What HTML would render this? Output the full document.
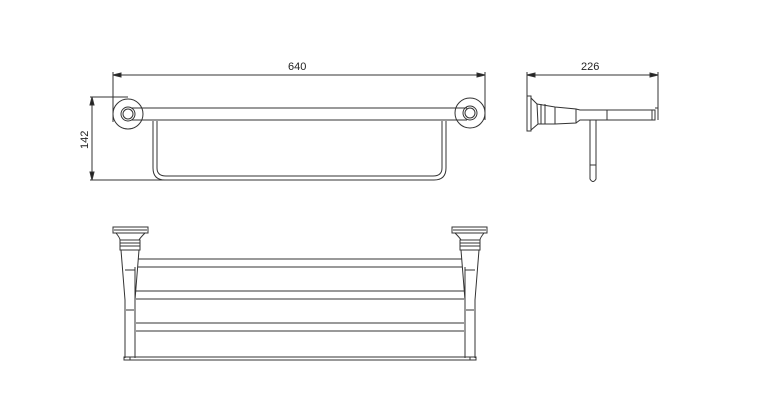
<!DOCTYPE html>
<html><head><meta charset="utf-8"><style>
html,body{margin:0;padding:0;background:#fff;width:762px;height:420px;overflow:hidden}
svg{display:block}
text{font-family:"Liberation Sans",sans-serif;font-size:11px;fill:#222}
</style></head><body>
<svg width="762" height="420" viewBox="0 0 762 420" xmlns="http://www.w3.org/2000/svg">
<g fill="none" stroke="#333" stroke-width="1">
<!-- top view dims -->
<line x1="113" y1="75" x2="485" y2="75"/>
<line x1="113" y1="72" x2="113" y2="122"/>
<line x1="485" y1="72" x2="485" y2="120"/>
<polygon points="113,75 121,73 121,77" fill="#222"/>
<polygon points="485,75 477,73 477,77" fill="#222"/>
<line x1="92" y1="97" x2="92" y2="180"/>
<line x1="90" y1="97" x2="128" y2="97"/>
<line x1="90" y1="180" x2="165" y2="180"/>
<polygon points="92,97 90,105 94,105" fill="#222"/>
<polygon points="92,180 90,172 94,172" fill="#222"/>
<!-- rosettes -->
<circle cx="128" cy="114" r="15"/>
<circle cx="128" cy="114" r="7"/>
<circle cx="128" cy="114" r="5"/>
<circle cx="470" cy="113" r="15"/>
<circle cx="470" cy="113" r="7"/>
<circle cx="470" cy="113" r="5"/>
<!-- rail -->
<line x1="131" y1="108" x2="467" y2="108"/>
<line x1="131" y1="120" x2="467" y2="120"/>
<!-- hanger -->
<path d="M153 121 V168 Q153 180 165 180 H434 Q446 180 446 168 V121"/>
<path d="M157 121 V168 Q157 176 166 176 H433 Q442 176 442 168 V121"/>
<!-- side view -->
<line x1="527" y1="75" x2="658" y2="75"/>
<line x1="527" y1="72" x2="527" y2="98"/>
<line x1="658" y1="72" x2="658" y2="120"/>
<polygon points="527,75 535,73 535,77" fill="#222"/>
<polygon points="658,75 650,73 650,77" fill="#222"/>
<rect x="527" y="96" width="4" height="35"/>
<path d="M531 98 L537 104 L538 124 L531 130"/>
<path d="M537 104 L555 107 L576 109 L576 123 L555 124 L538 124"/>
<line x1="541" y1="104" x2="541" y2="124"/>
<line x1="545" y1="104" x2="545" y2="124"/>
<line x1="555" y1="107" x2="555" y2="124"/>
<path d="M576 109 L580 110 H655 V120 H580 L576 123"/>
<line x1="607" y1="110" x2="607" y2="120"/>
<line x1="652" y1="110" x2="652" y2="120"/>
<line x1="655" y1="108" x2="658" y2="108"/>
<path d="M590 120 V179 Q593 184 596 179 V120"/>
<line x1="590" y1="165" x2="596" y2="165"/>
<!-- front view -->
<g id="post">
<rect x="113" y="227" width="35" height="6"/>
<line x1="114" y1="230" x2="147" y2="230"/>
<path d="M116 233 Q120 238 120 240 M145 233 Q140 238 139 240"/>
<rect x="120" y="240" width="20" height="10"/>
<line x1="120" y1="243" x2="140" y2="243"/>
<line x1="120" y1="246" x2="140" y2="246"/>
<path d="M121 250 L125 300 L125 358 M139 250 L135 300 L135 358"/>
<line x1="125" y1="270" x2="135" y2="270"/>
<line x1="126" y1="310" x2="134" y2="310"/>
</g>
<use href="#post" transform="translate(600 0) scale(-1 1)"/>
<path d="M138 259 H462 M138 267 H462"/>
<path d="M136 291 H464 M136 299 H464"/>
<path d="M136 323 H464 M136 331 H464"/>
<line x1="135" y1="267" x2="135" y2="358"/>
<line x1="465" y1="267" x2="465" y2="358"/>
<rect x="124" y="357" width="352" height="3"/>
<line x1="130" y1="357" x2="130" y2="360"/>
<line x1="470" y1="357" x2="470" y2="360"/>
</g>
<text x="288" y="70">640</text>
<text x="581" y="70">226</text>
<text transform="translate(88 149) rotate(-90)">142</text>
</svg>
</body></html>
